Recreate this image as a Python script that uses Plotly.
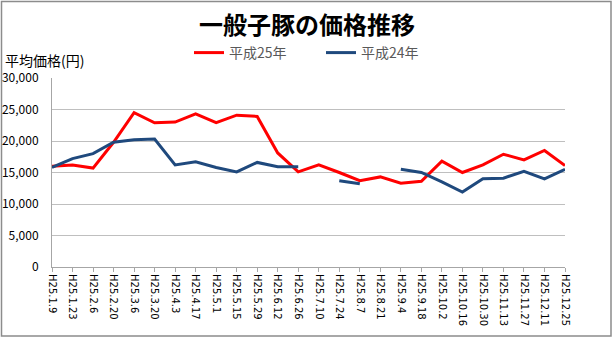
import plotly.graph_objects as go

categories = ["H25.1.9", "H25.1.23", "H25.2.6", "H25.2.20", "H25.3.6", "H25.3.20", "H25.4.3",
              "H25.4.17", "H25.5.1", "H25.5.15", "H25.5.29", "H25.6.12", "H25.6.26", "H25.7.10",
              "H25.7.24", "H25.8.7", "H25.8.21", "H25.9.4", "H25.9.18", "H25.10.2", "H25.10.16",
              "H25.10.30", "H25.11.13", "H25.11.27", "H25.12.11", "H25.12.25"]
h25 = [16000, 16200, 15700, 19800, 24500, 22900, 23000, 24300, 22900, 24100, 23900, 18100,
       15100, 16200, 15000, 13700, 14300, 13300, 13600, 16800, 15000, 16200, 17900, 17000,
       18500, 16100]
h24 = [15800, 17200, 18000, 19800, 20200, 20300, 16200, 16700, 15800, 15100, 16600, 15900,
       15900, None, 13700, 13200, None, 15500, 15000, 13500, 11900, 14000, 14100, 15200,
       14000, 15500]
y_ticks = [0, 5000, 10000, 15000, 20000, 25000, 30000]

W, H = 614, 339
L, R, T, B = 52, 49, 78, 72
pw, ph = W - L - R, H - T - B

FONT = "Noto Sans CJK JP"

fig = go.Figure()
fig.add_trace(go.Scatter(x=categories, y=h25, mode="lines", name="平成25年",
                         line=dict(color="#FF0000", width=3), connectgaps=False))
fig.add_trace(go.Scatter(x=categories, y=h24, mode="lines", name="平成24年",
                         line=dict(color="#1F497D", width=3), connectgaps=False))

def px_x(p):
    return (p - L) / pw

def px_y(p):
    return (H - B - p) / ph

fig.add_shape(type="rect", xref="paper", yref="paper",
              x0=px_x(1.5), x1=px_x(611), y0=px_y(336), y1=px_y(1.5),
              line=dict(color="#8C8C8C", width=1.5), layer="below")

fig.update_layout(
    width=W, height=H,
    margin=dict(l=L, r=R, t=T, b=B, autoexpand=False),
    paper_bgcolor="white", plot_bgcolor="white",
    font=dict(family=FONT, color="#000000"),
    title=dict(text="<b>一般子豚の価格推移</b>", x=307 / W, xanchor="center",
               y=1 - 26 / H, yanchor="middle", xref="container", yref="container",
               font=dict(size=24, family=FONT, color="#000000")),
    legend=dict(orientation="h", xref="paper", yref="paper",
                x=px_x(189), xanchor="left", y=px_y(53), yanchor="middle",
                font=dict(size=14, family=FONT, color="#595959"),
                entrywidth=87, bgcolor="rgba(0,0,0,0)"),
    showlegend=True,
    xaxis=dict(type="category", range=[0, len(categories) - 1], tickangle=90,
               tickfont=dict(size=10, family="DejaVu Sans", color="#000000"),
               showline=True, linecolor="#A6A6A6", linewidth=1,
               ticks="outside", ticklen=4, tickcolor="#A6A6A6",
               showgrid=False, zeroline=False, automargin=False),
    yaxis=dict(range=[0, 30000], tickvals=y_ticks, tickformat=",d",
               tickfont=dict(size=12, family=FONT, color="#000000"),
               showline=True, linecolor="#A6A6A6", linewidth=1,
               showgrid=True, gridcolor="#BFBFBF", gridwidth=1,
               zeroline=False, ticks="", ticklabelstandoff=10, automargin=False),
    annotations=[dict(text="平均価格(円)", xref="paper", yref="paper",
                      x=px_x(3), y=px_y(60), xanchor="left", yanchor="middle",
                      showarrow=False, font=dict(size=14, family=FONT, color="#000000"))],
)

fig.write_html("out.html")
